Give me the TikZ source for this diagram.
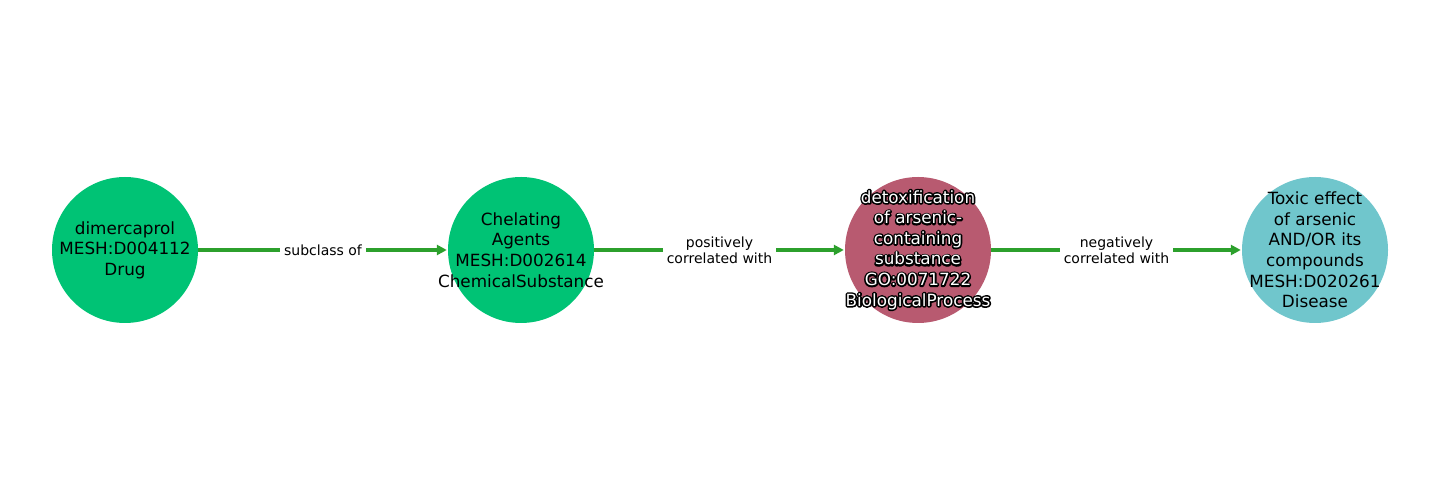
\documentclass[tikz,border=0pt]{standalone}
\usepackage{fontspec}
\setmainfont{DejaVu Sans}
\usetikzlibrary{arrows.meta}
\definecolor{ngreen}{HTML}{00C375}
\definecolor{nmaroon}{HTML}{B85A70}
\definecolor{ncyan}{HTML}{70C6CC}
\definecolor{egreen}{HTML}{2CA02C}
\newcommand{\strokeon}{\special{pdf:literal direct 1 Tr 3.2 w 1 j 1 J}}
\newcommand{\strokeoff}{\special{pdf:literal direct 0 Tr}}
\tikzset{x=1pt,y=1pt,
 ent/.style={circle,minimum size=146pt,inner sep=0pt,draw=none},
 lbl/.style={font=\fontsize{16.8}{20.6}\selectfont,align=center,text=black,inner sep=0pt},
 rel/.style={draw=egreen,line width=3.6pt,-{Stealth[length=10pt,width=10pt,inset=0pt]},shorten >=1pt},
 elbl/.style={fill=white,font=\fontsize{14}{16.2}\selectfont,align=center,inner sep=4pt,text=black}}
\begin{document}
\begin{tikzpicture}
\useasboundingbox (0,0) rectangle (1440,500);
\node[ent,fill=ngreen] (n1) at (125,250) {};
\node[ent,fill=ngreen] (n2) at (521,250) {};
\node[ent,fill=nmaroon] (n3) at (918,250) {};
\node[ent,fill=ncyan] (n4) at (1315,250) {};
\draw[rel] (n1) -- (n2) node[midway,elbl] {subclass of};
\draw[rel] (n2) -- (n3) node[midway,elbl] {positively\\correlated with};
\draw[rel] (n3) -- (n4) node[midway,elbl] {negatively\\correlated with};
\node[lbl] (t1) at (n1) {dimercaprol\\MESH:D004112\\Drug};
\node[lbl] (t2) at (n2) {Chelating\\Agents\\MESH:D002614\\ChemicalSubstance};
\node[lbl] (t4) at (n4) {Toxic effect\\of arsenic\\AND/OR its\\compounds\\MESH:D020261\\Disease};
\node[lbl,text=black] (t3o) at (n3) {\strokeon detoxification\\\strokeon of arsenic-\\\strokeon containing\\\strokeon substance\\\strokeon GO:0071722\\\strokeon BiologicalProcess\strokeoff};
\node[lbl,text=white] (t3) at (n3) {\strokeoff detoxification\\of arsenic-\\containing\\substance\\GO:0071722\\BiologicalProcess};
\end{tikzpicture}
\end{document}
